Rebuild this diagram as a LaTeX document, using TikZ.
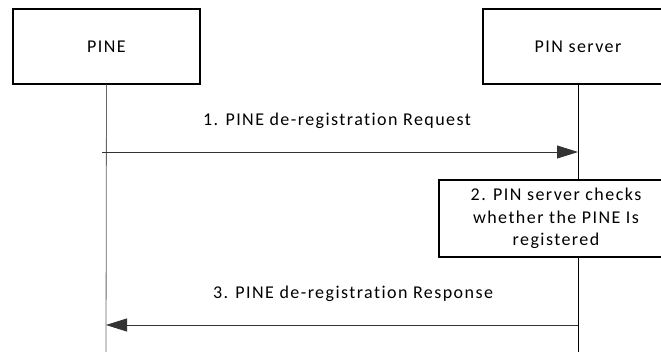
\documentclass[tikz,border=0pt]{standalone}
\usepackage{fontspec}
\setmainfont{Carlito}[LetterSpace=8,Ligatures=NoCommon]
\usetikzlibrary{arrows.meta}
\begin{document}
\begin{tikzpicture}[x=1pt,y=-1pt,
  txt/.style={font=\fontsize{18}{22.5}\selectfont},
  actor/.style={draw,line width=1.4pt,fill=white,inner sep=0pt,minimum height=75pt,txt},
  procbox/.style={draw,line width=1.4pt,fill=white,inner sep=0pt,minimum height=77pt,minimum width=234pt,align=center,txt},
  lifeline/.style={draw=black!60,line width=0.8pt},
  msg/.style={draw=black!80,line width=0.8pt,-{Triangle[length=21pt,width=13pt]}},
  lbl/.style={txt,anchor=base,inner sep=0pt}]
\useasboundingbox (0,0) rectangle (661,351);
\clip (0,0) rectangle (661,351);
\node[actor,minimum width=187pt] (pine) at (106.5,46.5) {PINE};
\node[actor,minimum width=190pt] (srv) at (578,46.5) {PIN server};
\coordinate (pineEnd) at (106,352);
\coordinate (srvEnd) at (578,352);
\draw[lifeline] (pine.south) -- (pineEnd);
\draw[lifeline,draw=black] (srv.south) -- (srvEnd);
\coordinate (m1s) at (102,152);
\coordinate (m1e) at (578,152);
\draw[msg] (m1s) -- (m1e);
\node[lbl] (l1) at (337,125) {1. PINE de-registration Request};
\node[procbox] (chk) at (556,218.5) {2. PIN server checks\\whether the PINE Is\\registered};
\coordinate (m3s) at (578,325);
\coordinate (m3e) at (106,325);
\draw[msg] (m3s) -- (m3e);
\node[lbl] (l3) at (353,298) {3. PINE de-registration Response};
\end{tikzpicture}
\end{document}
